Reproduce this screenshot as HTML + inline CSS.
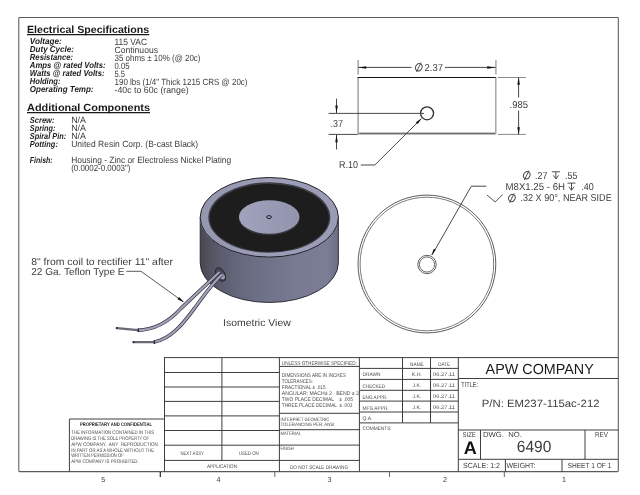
<!DOCTYPE html>
<html><head><meta charset="utf-8"><title>EM237-115ac-212</title>
<style>
html,body{margin:0;padding:0;background:#fff;}
svg{display:block;font-family:"Liberation Sans",sans-serif;text-rendering:geometricPrecision;}
</style></head><body>
<div style="will-change:transform;width:640px;height:495px;overflow:hidden">
<svg width="640" height="495" viewBox="0 0 640 495">
<rect width="640" height="495" fill="#fff"/>

<defs>
<linearGradient id="bg" x1="200" x2="338.4" y1="0" y2="0" gradientUnits="userSpaceOnUse">
<stop offset="0" stop-color="#474750"/><stop offset="0.05" stop-color="#50505c"/><stop offset="0.15" stop-color="#5b5c6e"/><stop offset="0.3" stop-color="#67697e"/><stop offset="0.5" stop-color="#71738a"/><stop offset="0.7" stop-color="#787a92"/><stop offset="0.92" stop-color="#7c7e97"/><stop offset="1" stop-color="#6c6e86"/>
</linearGradient>
<linearGradient id="rg" x1="200" x2="338.4" y1="0" y2="0" gradientUnits="userSpaceOnUse">
<stop offset="0" stop-color="#9496ae"/><stop offset="0.5" stop-color="#9c9eb7"/><stop offset="1" stop-color="#9a9cb6"/>
</linearGradient>
<linearGradient id="dg" x1="239" x2="299.4" y1="0" y2="0" gradientUnits="userSpaceOnUse">
<stop offset="0" stop-color="#a1a3bd"/><stop offset="1" stop-color="#9294ad"/>
</linearGradient>
</defs>
<path d="M200.2,217.3 L200.2,262.7 A69.1,39.8 0 0 0 338.400,262.7 L338.400,217.3 Z" fill="url(#bg)" stroke="#24242c" stroke-width="0.9"/>
<path d="M200.3,219 A69.2,39.8 0 0 0 338.100,219" fill="none" stroke="#8c8ea8" stroke-width="1.2" transform="translate(0,1.5)" opacity="0.8"/>
<ellipse cx="269.3" cy="217.3" rx="69.1" ry="39.8" fill="url(#rg)" stroke="#22222a" stroke-width="1"/>
<ellipse cx="269.3" cy="217.5" rx="61.0" ry="35.300" fill="#3c3c46"/>
<ellipse cx="269.3" cy="217.900" rx="59.6" ry="33.9" fill="#1d1d1d"/>
<ellipse cx="269.2" cy="218.2" rx="30.5" ry="17.2" fill="#34343c"/>
<ellipse cx="269.2" cy="217" rx="30.2" ry="16.700" fill="url(#dg)"/>
<ellipse cx="269" cy="217.100" rx="2.500" ry="1.500" fill="#9496ae" stroke="#1e1e24" stroke-width="0.95"/>
<g transform="rotate(-28 220.5 274.5)">
<ellipse cx="220.5" cy="274.5" rx="4.300" ry="7.300" fill="#4c4c58" stroke="#22222a" stroke-width="0.9"/>
<ellipse cx="221.3" cy="277.300" rx="2.200" ry="2.800" fill="#a0a2ba"/>
</g>
<path d="M219.5,272 L181,308.4 C171,319.5 157,329.8 137.4,330.2" fill="none" stroke="#34343e" stroke-width="3.6" stroke-linecap="butt" stroke-linejoin="round"/>
<path d="M219.5,272 L181,308.4 C171,319.5 157,329.8 137.4,330.2" fill="none" stroke="#a0a2ba" stroke-width="2.2" stroke-linecap="butt" stroke-linejoin="round"/>
<path d="M138,330.2 L116.8,328.1" stroke="#6a6a76" stroke-width="2.2" fill="none" stroke-linecap="round"/>
<path d="M138.6,328.6 L138.2,331.9" stroke="#2c2c34" stroke-width="1.3" fill="none"/>
<circle cx="116.8" cy="328.1" r="1.1" fill="#33333a"/>
<path d="M222.3,274.3 C212,283 203,297 194.4,308.4 C185,321 172,339 153.6,342.2" fill="none" stroke="#34343e" stroke-width="3.6" stroke-linecap="butt"/>
<path d="M222.3,274.3 C212,283 203,297 194.4,308.4 C185,321 172,339 153.6,342.2" fill="none" stroke="#a0a2ba" stroke-width="2.2" stroke-linecap="butt"/>
<path d="M154,342.2 L133.6,342.2" stroke="#6a6a76" stroke-width="2.2" fill="none" stroke-linecap="round"/>
<path d="M154.5,340.5 L154.3,343.9" stroke="#2c2c34" stroke-width="1.3" fill="none"/>
<circle cx="133.6" cy="342.2" r="1.1" fill="#33333a"/>

<g>
<rect x="18.8" y="17.5" width="599.5" height="454.1" rx="0.8" fill="none" stroke="#5a5a5a" stroke-width="1.05"/>
<line x1="27" y1="34.7" x2="149.3" y2="34.7" stroke="#1a1a1a" stroke-width="1.2"/>
<line x1="27" y1="112.6" x2="150" y2="112.6" stroke="#1a1a1a" stroke-width="1.2"/>
<line x1="164" y1="357.6" x2="618.3" y2="357.6" stroke="#3e3e3e" stroke-width="1"/>
<line x1="164.5" y1="357.5" x2="164.5" y2="471.7" stroke="#3e3e3e" stroke-width="1"/>
<line x1="221.9" y1="357.5" x2="221.9" y2="460.4" stroke="#3e3e3e" stroke-width="1"/>
<line x1="279.4" y1="357.5" x2="279.4" y2="471.7" stroke="#3e3e3e" stroke-width="1"/>
<line x1="359.4" y1="357.5" x2="359.4" y2="471.7" stroke="#3e3e3e" stroke-width="1"/>
<line x1="164.5" y1="372.5" x2="279.4" y2="372.5" stroke="#3e3e3e" stroke-width="1"/>
<line x1="164.5" y1="387.0" x2="279.4" y2="387.0" stroke="#3e3e3e" stroke-width="1"/>
<line x1="164.5" y1="401.4" x2="279.4" y2="401.4" stroke="#3e3e3e" stroke-width="1"/>
<line x1="164.5" y1="415.9" x2="279.4" y2="415.9" stroke="#3e3e3e" stroke-width="1"/>
<line x1="164.5" y1="430.5" x2="279.4" y2="430.5" stroke="#3e3e3e" stroke-width="1"/>
<line x1="164.5" y1="445.2" x2="279.4" y2="445.2" stroke="#3e3e3e" stroke-width="1"/>
<line x1="164.5" y1="460.4" x2="359.4" y2="460.4" stroke="#3e3e3e" stroke-width="1"/>
<line x1="69.4" y1="419.0" x2="164.5" y2="419.0" stroke="#3e3e3e" stroke-width="1"/>
<line x1="69.4" y1="419" x2="69.4" y2="471.7" stroke="#3e3e3e" stroke-width="1"/>
<line x1="279.4" y1="366.4" x2="359.4" y2="366.4" stroke="#3e3e3e" stroke-width="1"/>
<line x1="279.4" y1="413.3" x2="359.4" y2="413.3" stroke="#3e3e3e" stroke-width="1"/>
<line x1="279.4" y1="429.7" x2="359.4" y2="429.7" stroke="#3e3e3e" stroke-width="1"/>
<line x1="279.4" y1="445.1" x2="359.4" y2="445.1" stroke="#3e3e3e" stroke-width="1"/>
<line x1="359.4" y1="368.4" x2="458.3" y2="368.4" stroke="#3e3e3e" stroke-width="1"/>
<line x1="359.4" y1="379.4" x2="458.3" y2="379.4" stroke="#3e3e3e" stroke-width="1"/>
<line x1="359.4" y1="390.3" x2="458.3" y2="390.3" stroke="#3e3e3e" stroke-width="1"/>
<line x1="359.4" y1="401.1" x2="458.3" y2="401.1" stroke="#3e3e3e" stroke-width="1"/>
<line x1="359.4" y1="412.0" x2="458.3" y2="412.0" stroke="#3e3e3e" stroke-width="1"/>
<line x1="359.4" y1="422.9" x2="458.3" y2="422.9" stroke="#3e3e3e" stroke-width="1"/>
<line x1="402.5" y1="357.5" x2="402.5" y2="422.9" stroke="#3e3e3e" stroke-width="1"/>
<line x1="430.5" y1="357.5" x2="430.5" y2="422.9" stroke="#3e3e3e" stroke-width="1"/>
<line x1="458.3" y1="357.5" x2="458.3" y2="471.7" stroke="#3e3e3e" stroke-width="1"/>
<line x1="458.3" y1="378.5" x2="618.3" y2="378.5" stroke="#3e3e3e" stroke-width="1"/>
<line x1="458.3" y1="430" x2="618.3" y2="430" stroke="#3e3e3e" stroke-width="1"/>
<line x1="458.3" y1="459.3" x2="618.3" y2="459.3" stroke="#3e3e3e" stroke-width="1"/>
<line x1="480.5" y1="430" x2="480.5" y2="459.3" stroke="#3e3e3e" stroke-width="1"/>
<line x1="585" y1="430" x2="585" y2="459.3" stroke="#3e3e3e" stroke-width="1"/>
<line x1="505.4" y1="459.3" x2="505.4" y2="471.7" stroke="#3e3e3e" stroke-width="1"/>
<line x1="562" y1="459.3" x2="562" y2="471.7" stroke="#3e3e3e" stroke-width="1"/>
<line x1="160.3" y1="472" x2="160.3" y2="477" stroke="#222" stroke-width="1.2"/>
<line x1="274.8" y1="472" x2="274.8" y2="477" stroke="#666" stroke-width="1"/>
<line x1="389.5" y1="472" x2="389.5" y2="477" stroke="#666" stroke-width="1"/>
<line x1="504.3" y1="472" x2="504.3" y2="477" stroke="#666" stroke-width="1"/>
<line x1="358.1" y1="76.9" x2="358.1" y2="134" stroke="#909090" stroke-width="1.3"/>
<line x1="495.8" y1="76.9" x2="495.8" y2="134" stroke="#a0a0a0" stroke-width="1.4"/>
<line x1="358" y1="133.7" x2="495.8" y2="133.7" stroke="#a4a4a4" stroke-width="2.3"/>
<line x1="359.5" y1="133.4" x2="495" y2="133.4" stroke="#5a5a5a" stroke-width="0.8"/>
<line x1="357.6" y1="77.5" x2="495.6" y2="77.5" stroke="#111" stroke-width="1.2"/>
<circle cx="427.05" cy="113.3" r="6.5" fill="#fff" stroke="#2e2e2e" stroke-width="1.3"/>
<line x1="358.1" y1="60" x2="358.1" y2="74.5" stroke="#959595" stroke-width="1.3"/>
<line x1="495.9" y1="60" x2="495.9" y2="74.5" stroke="#a8a8a8" stroke-width="1.5"/>
<line x1="358" y1="67.4" x2="411.5" y2="67.4" stroke="#484848" stroke-width="1"/>
<line x1="445" y1="67.4" x2="495.5" y2="67.4" stroke="#484848" stroke-width="1"/>
<polygon points="358.20,67.40 366.20,66.15 366.20,68.65" fill="#111"/>
<polygon points="495.60,67.40 487.20,68.65 487.20,66.15" fill="#111"/>
<ellipse cx="418.8" cy="67.2" rx="3.15" ry="3.75" transform="rotate(28 418.8 67.2)" fill="none" stroke="#3c3c3c" stroke-width="0.9"/>
<line x1="416.45" y1="71.9" x2="421.15000000000003" y2="62.5" stroke="#3c3c3c" stroke-width="0.9"/>
<line x1="328.6" y1="113.4" x2="424" y2="113.4" stroke="#484848" stroke-width="1"/>
<line x1="328.6" y1="134.4" x2="357.8" y2="134.4" stroke="#484848" stroke-width="1"/>
<line x1="336.5" y1="98.6" x2="336.5" y2="113" stroke="#484848" stroke-width="1"/>
<line x1="336.5" y1="134.5" x2="336.5" y2="149.5" stroke="#484848" stroke-width="1"/>
<polygon points="336.50,113.40 335.25,105.60 337.75,105.60" fill="#111"/>
<polygon points="336.50,134.40 337.75,142.20 335.25,142.20" fill="#111"/>
<line x1="360.8" y1="165" x2="374.8" y2="165" stroke="#484848" stroke-width="1"/>
<line x1="374.8" y1="165" x2="420.5" y2="119.5" stroke="#484848" stroke-width="1"/>
<polygon points="421.90,118.10 417.68,124.07 415.92,122.29" fill="#111"/>
<line x1="497.9" y1="77.5" x2="525.8" y2="77.5" stroke="#8a8a8a" stroke-width="1"/>
<line x1="497.9" y1="134.4" x2="525.8" y2="134.4" stroke="#8a8a8a" stroke-width="1"/>
<line x1="518.6" y1="77.5" x2="518.6" y2="97.5" stroke="#484848" stroke-width="1"/>
<line x1="518.6" y1="110.5" x2="518.6" y2="134.4" stroke="#484848" stroke-width="1"/>
<polygon points="518.60,77.50 519.90,84.70 517.30,84.70" fill="#111"/>
<polygon points="518.60,134.40 517.30,127.20 519.90,127.20" fill="#111"/>
<circle cx="426.9" cy="264" r="68.9" fill="none" stroke="#5c5c5c" stroke-width="1"/>
<circle cx="426.9" cy="264" r="66.8" fill="none" stroke="#6c6c6c" stroke-width="0.9"/>
<circle cx="427" cy="264.5" r="9.2" fill="none" stroke="#505050" stroke-width="0.9"/>
<circle cx="427" cy="264.5" r="7.6" fill="none" stroke="#5a5a5a" stroke-width="0.9"/>
<line x1="471.3" y1="186.2" x2="486.3" y2="186.2" stroke="#484848" stroke-width="1"/>
<line x1="471.3" y1="186.2" x2="432" y2="255" stroke="#484848" stroke-width="1"/>
<polygon points="431.20,255.60 433.82,248.69 435.82,249.83" fill="#111"/>
<ellipse cx="526.75" cy="175.2" rx="3.15" ry="3.75" transform="rotate(28 526.75 175.2)" fill="none" stroke="#3c3c3c" stroke-width="0.9"/>
<line x1="524.4" y1="179.89999999999998" x2="529.1" y2="170.5" stroke="#3c3c3c" stroke-width="0.9"/>
<ellipse cx="511.9" cy="198" rx="3.15" ry="3.75" transform="rotate(28 511.9 198)" fill="none" stroke="#3c3c3c" stroke-width="0.9"/>
<line x1="509.54999999999995" y1="202.7" x2="514.25" y2="193.3" stroke="#3c3c3c" stroke-width="0.9"/>
<line x1="551.9" y1="171.8" x2="559.9" y2="171.8" stroke="#3c3c3c" stroke-width="0.9"/>
<line x1="555.9" y1="171.8" x2="555.9" y2="178.8" stroke="#3c3c3c" stroke-width="0.9"/>
<polyline points="553.3,175.4 555.9,179.0 558.5,175.4" fill="none" stroke="#3c3c3c" stroke-width="0.9"/>
<line x1="567.5" y1="183.1" x2="575.5" y2="183.1" stroke="#3c3c3c" stroke-width="0.9"/>
<line x1="571.5" y1="183.1" x2="571.5" y2="190.1" stroke="#3c3c3c" stroke-width="0.9"/>
<polyline points="568.9,186.7 571.5,190.29999999999998 574.1,186.7" fill="none" stroke="#3c3c3c" stroke-width="0.9"/>
<polyline points="487,195 495.2,202 502.7,194.5" fill="none" stroke="#3c3c3c" stroke-width="0.9"/>
<line x1="126.3" y1="271.3" x2="141" y2="271.3" stroke="#484848" stroke-width="0.9"/>
<line x1="141" y1="271.3" x2="183" y2="301.5" stroke="#484848" stroke-width="0.9"/>
<polygon points="184.30,302.50 177.34,299.33 179.09,296.90" fill="#111"/>
</g>
<g>
<text x="27.0" y="33" font-size="10.4" font-weight="bold" textLength="122.2" lengthAdjust="spacingAndGlyphs" fill="#1a1a1a">Electrical Specifications</text>
<text x="27.0" y="111" font-size="10.4" font-weight="bold" textLength="123" lengthAdjust="spacingAndGlyphs" fill="#1a1a1a">Additional Components</text>
<text x="29.8" y="44" font-size="8.6" font-weight="bold" font-style="italic" textLength="32" lengthAdjust="spacingAndGlyphs" fill="#1a1a1a">Voltage:</text>
<text x="29.8" y="52" font-size="8.6" font-weight="bold" font-style="italic" textLength="44.1" lengthAdjust="spacingAndGlyphs" fill="#1a1a1a">Duty Cycle:</text>
<text x="29.8" y="60" font-size="8.6" font-weight="bold" font-style="italic" textLength="43.3" lengthAdjust="spacingAndGlyphs" fill="#1a1a1a">Resistance:</text>
<text x="29.8" y="68" font-size="8.6" font-weight="bold" font-style="italic" textLength="75.8" lengthAdjust="spacingAndGlyphs" fill="#1a1a1a">Amps @ rated Volts:</text>
<text x="29.8" y="76" font-size="8.6" font-weight="bold" font-style="italic" textLength="74.7" lengthAdjust="spacingAndGlyphs" fill="#1a1a1a">Watts @ rated Volts:</text>
<text x="29.8" y="84" font-size="8.6" font-weight="bold" font-style="italic" textLength="30.7" lengthAdjust="spacingAndGlyphs" fill="#1a1a1a">Holding:</text>
<text x="29.8" y="92" font-size="8.6" font-weight="bold" font-style="italic" textLength="63.7" lengthAdjust="spacingAndGlyphs" fill="#1a1a1a">Operating Temp:</text>
<text x="114.5" y="45" font-size="9" textLength="32.5" lengthAdjust="spacingAndGlyphs" fill="#3c3c3c">115 VAC</text>
<text x="114.5" y="53" font-size="9" textLength="43.5" lengthAdjust="spacingAndGlyphs" fill="#3c3c3c">Continuous</text>
<text x="114.5" y="61" font-size="9" textLength="86" lengthAdjust="spacingAndGlyphs" fill="#3c3c3c">35 ohms ± 10% (@ 20c)</text>
<text x="114.5" y="69" font-size="9" textLength="15" lengthAdjust="spacingAndGlyphs" fill="#3c3c3c">0.05</text>
<text x="114.5" y="77" font-size="9" textLength="10.5" lengthAdjust="spacingAndGlyphs" fill="#3c3c3c">5.5</text>
<text x="114.5" y="85" font-size="9" textLength="133" lengthAdjust="spacingAndGlyphs" fill="#3c3c3c">190 lbs (1/4" Thick 1215 CRS @ 20c)</text>
<text x="114.5" y="93" font-size="9" textLength="74.2" lengthAdjust="spacingAndGlyphs" fill="#3c3c3c">-40c to 60c (range)</text>
<text x="29.8" y="123" font-size="8.6" font-weight="bold" font-style="italic" textLength="24.6" lengthAdjust="spacingAndGlyphs" fill="#1a1a1a">Screw:</text>
<text x="29.8" y="131" font-size="8.6" font-weight="bold" font-style="italic" textLength="25.7" lengthAdjust="spacingAndGlyphs" fill="#1a1a1a">Spring:</text>
<text x="29.8" y="139" font-size="8.6" font-weight="bold" font-style="italic" textLength="36.3" lengthAdjust="spacingAndGlyphs" fill="#1a1a1a">Spiral Pin:</text>
<text x="29.8" y="147" font-size="8.6" font-weight="bold" font-style="italic" textLength="28.1" lengthAdjust="spacingAndGlyphs" fill="#1a1a1a">Potting:</text>
<text x="29.8" y="163" font-size="8.6" font-weight="bold" font-style="italic" textLength="22.9" lengthAdjust="spacingAndGlyphs" fill="#1a1a1a">Finish:</text>
<text x="71.2" y="123" font-size="9" textLength="14.8" lengthAdjust="spacingAndGlyphs" fill="#3c3c3c">N/A</text>
<text x="71.2" y="131" font-size="9" textLength="14.8" lengthAdjust="spacingAndGlyphs" fill="#3c3c3c">N/A</text>
<text x="71.2" y="139" font-size="9" textLength="14.8" lengthAdjust="spacingAndGlyphs" fill="#3c3c3c">N/A</text>
<text x="71.2" y="147" font-size="9" textLength="127" lengthAdjust="spacingAndGlyphs" fill="#3c3c3c">United Resin Corp. (B-cast Black)</text>
<text x="71.2" y="163" font-size="9" textLength="160" lengthAdjust="spacingAndGlyphs" fill="#3c3c3c">Housing - Zinc or Electroless Nickel Plating</text>
<text x="71.2" y="171" font-size="9" textLength="59.3" lengthAdjust="spacingAndGlyphs" fill="#3c3c3c">(0.0002-0.0003")</text>
<text x="31.2" y="265" font-size="10" textLength="141.8" lengthAdjust="spacingAndGlyphs" fill="#3c3c3c">8" from coil to rectifier 11" after</text>
<text x="31.2" y="275" font-size="10" textLength="93.3" lengthAdjust="spacingAndGlyphs" fill="#3c3c3c">22 Ga. Teflon Type E</text>
<text x="223" y="326" font-size="10" textLength="67.8" lengthAdjust="spacingAndGlyphs" fill="#3c3c3c">Isometric View</text>
<text x="424.5" y="71" font-size="10" textLength="18.5" lengthAdjust="spacingAndGlyphs" fill="#3c3c3c">2.37</text>
<text x="330.5" y="127" font-size="10" textLength="12.5" lengthAdjust="spacingAndGlyphs" fill="#3c3c3c">.37</text>
<text x="339" y="168" font-size="10" textLength="19" lengthAdjust="spacingAndGlyphs" fill="#3c3c3c">R.10</text>
<text x="509.5" y="108" font-size="10" textLength="18.5" lengthAdjust="spacingAndGlyphs" fill="#3c3c3c">.985</text>
<text x="535" y="179" font-size="10" textLength="12.3" lengthAdjust="spacingAndGlyphs" fill="#3c3c3c">.27</text>
<text x="565" y="179" font-size="10" textLength="12.3" lengthAdjust="spacingAndGlyphs" fill="#3c3c3c">.55</text>
<text x="505.5" y="190" font-size="10" textLength="59.5" lengthAdjust="spacingAndGlyphs" fill="#3c3c3c">M8X1.25 - 6H</text>
<text x="581.3" y="190" font-size="10" textLength="12.5" lengthAdjust="spacingAndGlyphs" fill="#3c3c3c">.40</text>
<text x="520.5" y="201" font-size="10" textLength="91.2" lengthAdjust="spacingAndGlyphs" fill="#3c3c3c">.32 X 90°, NEAR SIDE</text>
<text x="80" y="426" font-size="5.1" font-weight="bold" textLength="72" lengthAdjust="spacingAndGlyphs" fill="#1a1a1a">PROPRIETARY AND CONFIDENTIAL</text>
<text x="71.2" y="434" font-size="5.2" textLength="83" lengthAdjust="spacingAndGlyphs" fill="#4c4c4c" xml:space="preserve">THE INFORMATION CONTAINED IN THIS</text>
<text x="71.2" y="440" font-size="5.2" textLength="78" lengthAdjust="spacingAndGlyphs" fill="#4c4c4c" xml:space="preserve">DRAWING IS THE SOLE PROPERTY OF</text>
<text x="71.2" y="446" font-size="5.2" textLength="86.7" lengthAdjust="spacingAndGlyphs" fill="#4c4c4c" xml:space="preserve">APW COMPANY.  ANY  REPRODUCTION</text>
<text x="71.2" y="452" font-size="5.2" textLength="83" lengthAdjust="spacingAndGlyphs" fill="#4c4c4c" xml:space="preserve">IN PART OR AS A WHOLE WITHOUT THE</text>
<text x="71.2" y="457" font-size="5.2" textLength="52.5" lengthAdjust="spacingAndGlyphs" fill="#4c4c4c" xml:space="preserve">WRITTEN PERMISSION OF</text>
<text x="71.2" y="463" font-size="5.2" textLength="67.5" lengthAdjust="spacingAndGlyphs" fill="#4c4c4c" xml:space="preserve">APW COMPANY IS PROHIBITED.</text>
<text x="180.5" y="455" font-size="5.2" textLength="23.4" lengthAdjust="spacingAndGlyphs" fill="#4c4c4c">NEXT ASSY</text>
<text x="238.8" y="455" font-size="5.2" textLength="20" lengthAdjust="spacingAndGlyphs" fill="#4c4c4c">USED ON</text>
<text x="207" y="468" font-size="5.2" textLength="30" lengthAdjust="spacingAndGlyphs" fill="#4c4c4c">APPLICATION</text>
<text x="281.8" y="365" font-size="5.45" textLength="75" lengthAdjust="spacingAndGlyphs" fill="#4c4c4c">UNLESS OTHERWISE SPECIFIED:</text>
<text x="281.8" y="377" font-size="5.45" textLength="64" lengthAdjust="spacingAndGlyphs" fill="#4c4c4c" xml:space="preserve">DIMENSIONS ARE IN INCHES</text>
<text x="281.8" y="383" font-size="5.45" textLength="31.2" lengthAdjust="spacingAndGlyphs" fill="#4c4c4c" xml:space="preserve">TOLERANCES:</text>
<text x="281.8" y="389" font-size="5.45" textLength="43.7" lengthAdjust="spacingAndGlyphs" fill="#4c4c4c" xml:space="preserve">FRACTIONAL ± .015</text>
<text x="281.8" y="395" font-size="5.45" textLength="77.2" lengthAdjust="spacingAndGlyphs" fill="#4c4c4c" xml:space="preserve">ANGULAR: MACH± 2   BEND ± 2</text>
<text x="281.8" y="401" font-size="5.45" textLength="71.2" lengthAdjust="spacingAndGlyphs" fill="#4c4c4c" xml:space="preserve">TWO PLACE DECIMAL    ± .005</text>
<text x="281.8" y="407" font-size="5.45" textLength="70.7" lengthAdjust="spacingAndGlyphs" fill="#4c4c4c" xml:space="preserve">THREE PLACE DECIMAL  ± .003</text>
<text x="280.5" y="421" font-size="4.8" textLength="48.7" lengthAdjust="spacingAndGlyphs" fill="#4c4c4c">INTERPRET GEOMETRIC</text>
<text x="280.5" y="426" font-size="4.8" textLength="54" lengthAdjust="spacingAndGlyphs" fill="#4c4c4c">TOLERANCING PER: ANSI</text>
<text x="280.5" y="435" font-size="4.8" textLength="20.7" lengthAdjust="spacingAndGlyphs" fill="#4c4c4c">MATERIAL</text>
<text x="280.5" y="450" font-size="4.8" textLength="13.2" lengthAdjust="spacingAndGlyphs" fill="#4c4c4c">FINISH</text>
<text x="290" y="469" font-size="5.2" textLength="58" lengthAdjust="spacingAndGlyphs" fill="#4c4c4c">DO NOT SCALE DRAWING</text>
<text x="362.5" y="376" font-size="5.2" textLength="18" lengthAdjust="spacingAndGlyphs" fill="#4c4c4c">DRAWN</text>
<text x="362.5" y="388" font-size="5.2" textLength="22.5" lengthAdjust="spacingAndGlyphs" fill="#4c4c4c">CHECKED</text>
<text x="362.5" y="399" font-size="5.2" textLength="25" lengthAdjust="spacingAndGlyphs" fill="#4c4c4c">ENG APPR.</text>
<text x="362.5" y="410" font-size="5.2" textLength="26.2" lengthAdjust="spacingAndGlyphs" fill="#4c4c4c">MFG APPR.</text>
<text x="362.5" y="420" font-size="5.2" textLength="10" lengthAdjust="spacingAndGlyphs" fill="#4c4c4c">Q.A.</text>
<text x="362.5" y="430" font-size="5.2" textLength="29.2" lengthAdjust="spacingAndGlyphs" fill="#4c4c4c">COMMENTS:</text>
<text x="410" y="366" font-size="5.2" textLength="13.8" lengthAdjust="spacingAndGlyphs" fill="#4c4c4c">NAME</text>
<text x="438.3" y="366" font-size="5.2" textLength="11.7" lengthAdjust="spacingAndGlyphs" fill="#4c4c4c">DATE</text>
<text x="411.8" y="376" font-size="5.2" textLength="10.2" lengthAdjust="spacingAndGlyphs" fill="#4c4c4c">K.H.</text>
<text x="412.5" y="387" font-size="5.2" textLength="8.8" lengthAdjust="spacingAndGlyphs" fill="#4c4c4c">J.K.</text>
<text x="412.5" y="398" font-size="5.2" textLength="8.8" lengthAdjust="spacingAndGlyphs" fill="#4c4c4c">J.K.</text>
<text x="412.5" y="409" font-size="5.2" textLength="8.8" lengthAdjust="spacingAndGlyphs" fill="#4c4c4c">J.K.</text>
<text x="433" y="376" font-size="5.2" textLength="22" lengthAdjust="spacingAndGlyphs" fill="#4c4c4c">06.27.11</text>
<text x="433" y="387" font-size="5.2" textLength="22" lengthAdjust="spacingAndGlyphs" fill="#4c4c4c">06.27.11</text>
<text x="433" y="398" font-size="5.2" textLength="22" lengthAdjust="spacingAndGlyphs" fill="#4c4c4c">06.27.11</text>
<text x="433" y="409" font-size="5.2" textLength="22" lengthAdjust="spacingAndGlyphs" fill="#4c4c4c">06.27.11</text>
<text x="485.6" y="374" font-size="14.6" textLength="108.2" lengthAdjust="spacingAndGlyphs" fill="#1a1a1a">APW COMPANY</text>
<text x="461.3" y="387" font-size="7.4" textLength="16.7" lengthAdjust="spacingAndGlyphs" fill="#3c3c3c">TITLE:</text>
<text x="481.8" y="407" font-size="10.6" textLength="117.7" lengthAdjust="spacingAndGlyphs" fill="#3c3c3c">P/N: EM237-115ac-212</text>
<text x="462.5" y="437" font-size="7" textLength="13.3" lengthAdjust="spacingAndGlyphs" fill="#3c3c3c">SIZE</text>
<text x="463.7" y="454" font-size="18" font-weight="bold" textLength="13" lengthAdjust="spacingAndGlyphs" fill="#111">A</text>
<text x="483" y="437" font-size="7.4" textLength="38.8" lengthAdjust="spacingAndGlyphs" fill="#3c3c3c" xml:space="preserve">DWG.  NO.</text>
<text x="516.8" y="452" font-size="16.2" textLength="34.5" lengthAdjust="spacingAndGlyphs" fill="#3c3c3c">6490</text>
<text x="595" y="437" font-size="7.2" textLength="13" lengthAdjust="spacingAndGlyphs" fill="#3c3c3c">REV</text>
<text x="463" y="468" font-size="7.4" textLength="37" lengthAdjust="spacingAndGlyphs" fill="#3c3c3c">SCALE: 1:2</text>
<text x="506.6" y="468" font-size="7.4" textLength="28.8" lengthAdjust="spacingAndGlyphs" fill="#3c3c3c">WEIGHT:</text>
<text x="567.5" y="468" font-size="7.4" textLength="43.8" lengthAdjust="spacingAndGlyphs" fill="#3c3c3c">SHEET 1 OF 1</text>
<text x="103.3" y="482" font-size="7.2" text-anchor="middle" fill="#3c3c3c">5</text>
<text x="218.5" y="482" font-size="7.2" text-anchor="middle" fill="#3c3c3c">4</text>
<text x="329.5" y="482" font-size="7.2" text-anchor="middle" fill="#3c3c3c">3</text>
<text x="445" y="482" font-size="7.2" text-anchor="middle" fill="#3c3c3c">2</text>
<text x="564" y="482" font-size="7.2" text-anchor="middle" fill="#3c3c3c">1</text>
</g>
</svg>
</div>
</body></html>
